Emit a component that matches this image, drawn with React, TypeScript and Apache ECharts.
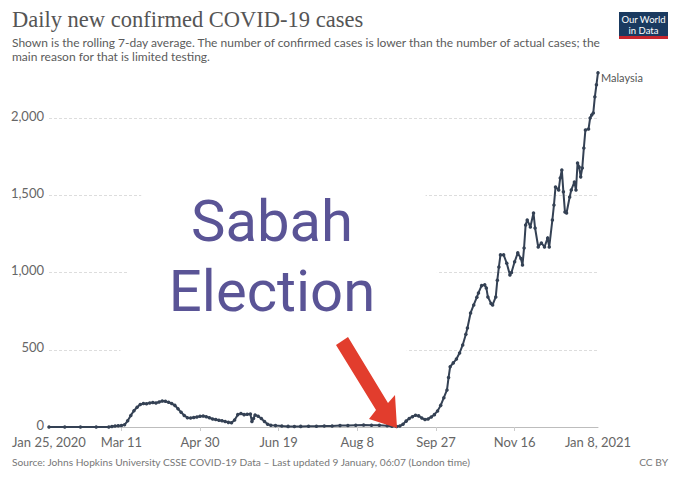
import React, { useEffect, useRef } from "react";
import * as echarts from "echarts";

// Days since Jan 25, 2020 and rolling 7-day average of new cases (Malaysia)
const days = [
  0, 10, 20, 30, 38, 40, 42, 44, 46, 48, 50, 52, 54, 56, 58, 60, 62, 64, 66, 68, 70, 72, 74, 76, 78, 80,
  82, 84, 86, 88, 90, 92, 94, 96, 98, 100, 102, 104, 106, 108, 110, 112, 114, 116, 118, 120, 122, 124,
  126, 128, 129, 130, 131, 133, 135, 137, 139, 141, 144, 148, 152, 156, 160, 165, 170, 175, 180, 185,
  190, 195, 200, 205, 210, 215, 218, 221, 223, 225, 227, 229, 231, 233, 235, 237, 239, 241, 243, 245,
  247, 249, 251, 253, 254, 255, 257, 259, 261, 263, 265, 266, 268, 270, 272, 273, 275, 277, 278, 279,
  281, 282, 284, 285, 286, 287, 289, 291, 293, 294, 296, 298, 300, 301, 302, 303, 304, 306, 308, 309,
  311, 313, 315, 317, 318, 320, 321, 322, 324, 325, 326, 327, 328, 329, 331, 332, 334, 335, 336, 337,
  338, 339, 340, 341, 343, 344, 345, 346, 347, 348, 349,
];
const cases = [
  0, 0, 0, 0, 0, 3, 6, 8, 10, 14, 40, 75, 105, 128, 145, 152, 150, 156, 158, 155, 162, 168, 166, 160, 152, 140,
  118, 95, 75, 60, 58, 62, 65, 70, 71, 66, 60, 52, 48, 44, 40, 35, 30, 28, 45, 80, 88, 80,
  82, 84, 35, 55, 78, 70, 55, 35, 18, 12, 9, 6, 4, 3, 4, 5, 5, 6, 7, 9,
  10, 12, 13, 12, 11, 8, 5, 3, 6, 18, 38, 55, 67, 76, 72, 58, 48, 52, 65, 80,
  104, 140, 190, 240, 320, 390, 415, 440, 479, 531, 600, 641, 738, 790, 840, 868, 915, 920, 900, 842,
  800, 790, 842, 950, 1036, 1114, 1114, 1060, 984, 1000, 1069, 1127, 1090, 1049, 1159, 1308, 1340, 1295, 1385, 1288,
  1165, 1191, 1165, 1224, 1165, 1340, 1437, 1554, 1534, 1612, 1664, 1522, 1392, 1385, 1489, 1534, 1586, 1534, 1709, 1683,
  1619, 1677, 1806, 1923, 1929, 2000, 2020, 2033, 2137, 2215, 2293,
];

const tickDays = [0, 46, 96, 146, 196, 246, 296, 349];
const tickLabels = ["Jan 25, 2020", "Mar 11", "Apr 30", "Jun 19", "Aug 8", "Sep 27", "Nov 16", "Jan 8, 2021"];
const yTicks = [0, 500, 1000, 1500, 2000];

const LINE = "#344154";
const FONT = "Lato, 'Noto Sans', sans-serif";

function arrowPoints() {
  return [
    [348, 337],
    [388, 403],
    [395, 395],
    [397, 428],
    [369, 419],
    [376, 410],
    [336, 345],
  ];
}

export default function App() {
  const ref = useRef<HTMLDivElement>(null);
  useEffect(() => {
    if (!ref.current) return;
    const chart = echarts.init(ref.current, null, { renderer: "svg" });
    const data = days.map((d, i) => [d, cases[i]]);
    chart.setOption({
      animation: false,
      backgroundColor: "#ffffff",
      grid: { left: 49, right: 82, top: 118, bottom: 53, outerBoundsMode: "none" },
      xAxis: {
        type: "value",
        min: 0,
        max: 349,
        splitLine: { show: false },
        axisLine: { show: true, lineStyle: { color: "#bdbdbd", width: 1 } },
        axisTick: { show: true, customValues: tickDays.slice(1, -1), length: 4, lineStyle: { color: "#cccccc" } },
        axisLabel: {
          customValues: tickDays,
          formatter: (v: number) => {
            const i = tickDays.indexOf(Math.round(v));
            return i >= 0 ? tickLabels[i] : "";
          },
          color: "#666666",
          fontSize: 13,
          fontFamily: FONT,
          margin: 8,
          showMinLabel: true,
          showMaxLabel: true,
        },
      },
      yAxis: {
        type: "value",
        min: 0,
        max: 2000,
        interval: 500,
        axisLine: { show: false },
        axisTick: { show: false },
        splitLine: { show: true, lineStyle: { color: "#dddddd", type: [3, 2], width: 1 } },
        axisLabel: {
          customValues: yTicks,
          formatter: (v: number) => v.toLocaleString("en-US"),
          color: "#666666",
          fontSize: 13,
          fontFamily: FONT,
          margin: 5,
          verticalAlign: "bottom",
          padding: [0, 0, -4, 0],
        },
      },
      series: [
        {
          type: "line",
          data,
          clip: false,
          symbol: "circle",
          symbolSize: 3.5,
          showSymbol: true,
          lineStyle: { color: LINE, width: 2 },
          itemStyle: { color: LINE },
          z: 5,
          endLabel: {
            show: true,
            formatter: "Malaysia",
            color: "#555555",
            fontSize: 11,
            fontFamily: FONT,
            distance: 3,
            offset: [0, 5],
          },
        },
      ],
      graphic: [
        {
          type: "text",
          x: 12,
          y: 19,
          style: {
            text: "Daily new confirmed COVID-19 cases",
            font: "22.5px 'Liberation Serif', serif",
            fill: "#555555",
            textAlign: "left",
            textVerticalAlign: "middle",
            align: "left",
            verticalAlign: "middle",
          },
        },
        {
          type: "text",
          x: 12,
          y: 42,
          style: {
            text: "Shown is the rolling 7-day average. The number of confirmed cases is lower than the number of actual cases; the",
            font: "12px Lato, sans-serif",
            fill: "#5b5b5b",
            textVerticalAlign: "middle",
            verticalAlign: "middle",
          },
        },
        {
          type: "text",
          x: 12,
          y: 56,
          style: {
            text: "main reason for that is limited testing.",
            font: "12px Lato, sans-serif",
            fill: "#5b5b5b",
            textVerticalAlign: "middle",
            verticalAlign: "middle",
          },
        },
        { type: "rect", shape: { x: 619, y: 12, width: 49, height: 27 }, style: { fill: "#1a3a60" } },
        { type: "rect", shape: { x: 619, y: 36, width: 49, height: 3 }, style: { fill: "#c8262d" } },
        {
          type: "text",
          x: 643.5,
          y: 19.5,
          style: {
            text: "Our World",
            font: "9.5px Lato, sans-serif",
            fill: "#ffffff",
            textAlign: "center",
            align: "center",
            textVerticalAlign: "middle",
            verticalAlign: "middle",
          },
        },
        {
          type: "text",
          x: 643.5,
          y: 30,
          style: {
            text: "in Data",
            font: "9.5px Lato, sans-serif",
            fill: "#ffffff",
            textAlign: "center",
            align: "center",
            textVerticalAlign: "middle",
            verticalAlign: "middle",
          },
        },
        {
          type: "text",
          x: 12,
          y: 462,
          style: {
            text: "Source: Johns Hopkins University CSSE COVID-19 Data – Last updated 9 January, 06:07 (London time)",
            font: "10.2px Lato, sans-serif",
            fill: "#777777",
            textVerticalAlign: "middle",
            verticalAlign: "middle",
          },
        },
        {
          type: "text",
          x: 668,
          y: 462,
          style: {
            text: "CC BY",
            font: "10.2px Lato, sans-serif",
            fill: "#777777",
            textAlign: "right",
            align: "right",
            textVerticalAlign: "middle",
            verticalAlign: "middle",
          },
        },
        {
          type: "polygon",
          z: 1,
          shape: { points: [[143, 185], [424, 185], [437, 273], [405, 355], [120, 355], [128, 273]] },
          style: { fill: "#ffffff" },
        },
        {
          type: "text",
          z: 3,
          x: 272,
          y: 221,
          style: {
            text: "Sabah",
            font: "58px Roboto, sans-serif",
            fill: "#5a5496",
            textAlign: "center",
            align: "center",
            textVerticalAlign: "middle",
            verticalAlign: "middle",
          },
        },
        {
          type: "text",
          z: 3,
          x: 272,
          y: 291,
          style: {
            text: "Election",
            font: "58px Roboto, sans-serif",
            fill: "#5a5496",
            textAlign: "center",
            align: "center",
            textVerticalAlign: "middle",
            verticalAlign: "middle",
          },
        },
        {
          type: "polygon",
          z: 10,
          shape: { points: arrowPoints() },
          style: { fill: "#e23d2d" },
        },
      ],
    });
    return () => chart.dispose();
  }, []);
  return <div ref={ref} style={{ width: 680, height: 480, position: "absolute", left: 0, top: 0 }} />;
}
